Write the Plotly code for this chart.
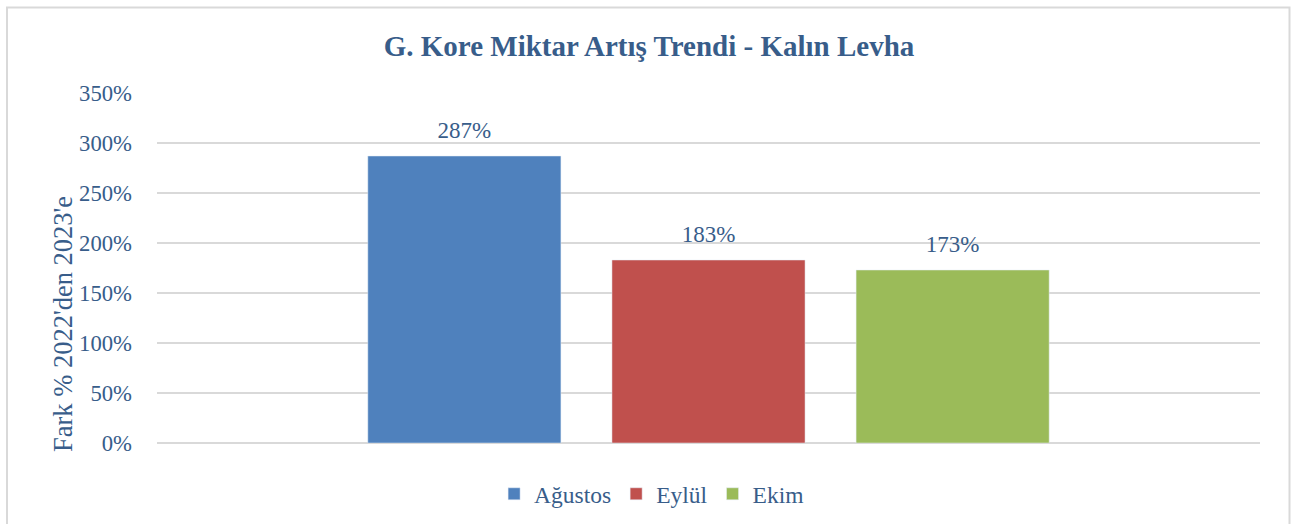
import plotly.graph_objects as go

category = ["Kalın Levha"]
series_names = ["Ağustos", "Eylül", "Ekim"]
series_values = [2.87, 1.83, 1.73]
series_colors = ["#4F81BD", "#C0504D", "#9BBB59"]

title_text = "G. Kore Miktar Artış Trendi - Kalın Levha"
y_title = "Fark % 2022'den 2023'e"
y_ticks = [0, 0.5, 1.0, 1.5, 2.0, 2.5, 3.0, 3.5]

TXT = "#385D8A"
FONT = "Liberation Serif, Times New Roman, serif"

fig = go.Figure()
for name, val, col in zip(series_names, series_values, series_colors):
    fig.add_trace(go.Bar(
        x=category, y=[val], name=name, marker_color=col,
        offsetgroup=name, hoverinfo="skip",
    ))
for name, val in zip(series_names, series_values):
    fig.add_trace(go.Scatter(
        x=category, y=[val], mode="markers+text", offsetgroup=name,
        text=[f"{val:.0%}"], textposition="top center",
        marker=dict(size=18, opacity=0),
        textfont=dict(family=FONT, size=23, color=TXT),
        showlegend=False, cliponaxis=False, hoverinfo="skip",
    ))

fig.update_layout(
    width=1298, height=524,
    margin=dict(l=157, r=38, t=93, b=81, autoexpand=False),
    paper_bgcolor="white", plot_bgcolor="white",
    barmode="group", bargap=0.336, bargroupgap=0.209,
    scattermode="group", scattergap=0.336,
    font=dict(family=FONT, color=TXT, size=22),
    title=dict(text=f"<b>{title_text}</b>", x=0.5, xanchor="center",
               y=1 - 46 / 524, yanchor="middle",
               font=dict(family=FONT, size=29, color=TXT)),
    showlegend=True,
    legend=dict(orientation="h", xref="container", yref="container",
                x=0.502, xanchor="center", y=1 - 494 / 524, yanchor="middle",
                font=dict(family=FONT, size=23.5, color=TXT), itemwidth=30,
                traceorder="normal"),
    xaxis=dict(showticklabels=False, showgrid=False, zeroline=False, showline=False, ticks=""),
    yaxis=dict(range=[0, 3.5], tickvals=y_ticks, tickformat=".0%",
               showgrid=True, gridcolor="#D9D9D9", gridwidth=1.5,
               zeroline=True, zerolinecolor="#D9D9D9", zerolinewidth=1.5,
               showline=False, ticks="", ticklabelstandoff=24,
               tickfont=dict(family=FONT, size=22.7, color=TXT)),
    annotations=[dict(text=y_title, textangle=-90, showarrow=False,
                      xref="paper", yref="paper",
                      x=(63 - 157) / 1103, y=(443 - 324) / 350,
                      xanchor="center", yanchor="middle",
                      font=dict(family=FONT, size=26.5, color=TXT))],
    shapes=[dict(type="rect", xref="paper", yref="paper",
                 x0=(7 - 157) / 1103, x1=(1289.5 - 157) / 1103,
                 y0=-0.3, y1=(443 - 7.5) / 350,
                 line=dict(color="#D9D9D9", width=2), fillcolor="rgba(0,0,0,0)",
                 layer="below")],
)

fig.write_html("out.html", config={"displayModeBar": False},
               post_script="document.body.style.margin='0';")
